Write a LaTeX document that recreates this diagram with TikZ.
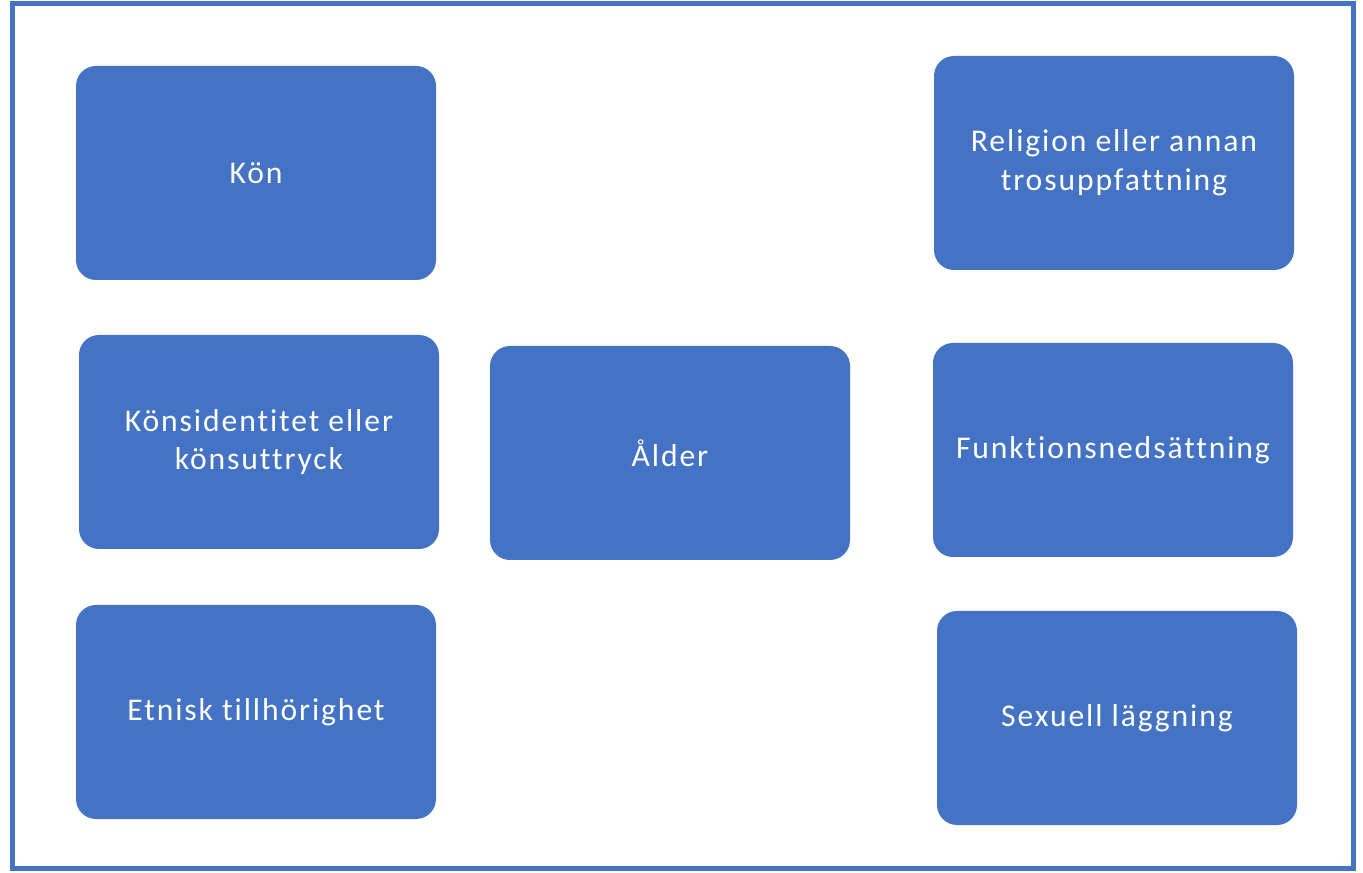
\documentclass[tikz,border=0pt]{standalone}
\usepackage{fontspec}
\setmainfont[LetterSpace=6, Ligatures={NoCommon}]{Carlito}
\usepackage{tikz}
\usetikzlibrary{calc}

\definecolor{officeblue}{HTML}{4472C4}

\tikzset{
  grundbox/.style={fill=officeblue, draw=none, rounded corners=0.4cm,
    minimum width=7.2cm, minimum height=4.28cm, align=center,
    text=white, font=\fontsize{18}{22}\selectfont},
}

\begin{document}
\begin{tikzpicture}
      \useasboundingbox (0,0) rectangle (27.26,17.44);
      \fill [white] (0,0) rectangle (27.26,17.44);
      \draw [officeblue, line width=0.1cm] (0.24,0.08) rectangle (27.06,17.36);

      \node [grundbox] (kon) at (5.12, 13.98) {Kön};
      \node [grundbox] (konsid) at (5.18, 8.60) {Könsidentitet eller\\könsuttryck};
      \node [grundbox] (etnisk) at (5.12, 3.20) {Etnisk tillhörighet};

      \node [grundbox] (alder) at (13.40, 8.38) {Ålder};

      \node [grundbox] (religion) at (22.28, 14.18) {Religion eller annan\\trosuppfattning};
      \node [grundbox] (funktion) at (22.26, 8.44) {Funktionsnedsättning};
      \node [grundbox] (sexuell) at (22.34, 3.08) {Sexuell läggning};
    
  \end{tikzpicture}
\end{document}
